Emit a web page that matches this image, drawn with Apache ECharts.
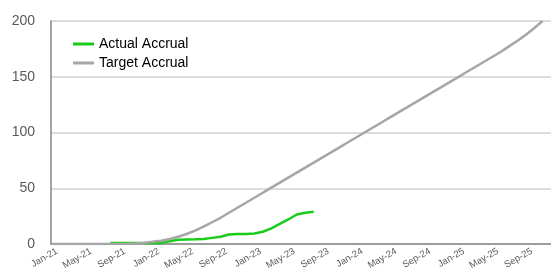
<!DOCTYPE html>
<html>
<head>
<meta charset="utf-8">
<script src="https://cdn.jsdelivr.net/npm/echarts@6/dist/echarts.min.js"></script>
<style>
  html, body { margin: 0; padding: 0; background: #fff; }
  #chart { width: 551px; height: 275px; }
</style>
</head>
<body>
<div id="chart"></div>
<script>
const MONTHS = ['Jan', 'Feb', 'Mar', 'Apr', 'May', 'Jun', 'Jul', 'Aug', 'Sep', 'Oct', 'Nov', 'Dec'];
const YEARS = ['21', '22', '23', '24', '25'];
const categories = [];
YEARS.forEach(y => MONTHS.forEach(m => categories.push(m + '-' + y)));

// Jan-21 .. Aug-23
const actualAccrual = [
  null, null, null, null, null, null, null, 1, 1, 1, 1, 1,
  1, 1, 2.5, 3.8, 4, 4.2, 4.5, 5.5, 6.5, 8.5, 9, 9,
  9.5, 11, 14, 18, 22, 26.5, 28, 29
];

// Jan-21 .. Nov-25
const targetAccrual = [
  0, 0, 0, 0, 0, 0, 0, 0, 0, 0, 0.5, 1,
  2, 3, 4.5, 6.5, 9, 12, 15.5, 19.5, 23.5, 28, 32.5, 37,
  41.5, 46, 50.5, 55, 59.5, 64, 68.5, 73, 77.5, 82, 86.5, 91,
  95.5, 100, 104.5, 109, 113.5, 118, 122.5, 127, 131.5, 136, 140.5, 145,
  149.5, 154, 158.5, 163, 167.5, 172, 177, 182, 187.5, 193.5, 200
];

const yTicks = [0, 50, 100, 150, 200];

const chart = echarts.init(document.getElementById('chart'));

chart.setOption({
  animation: false,
  title: {
    text: 'Cumulative Accrual (N)',
    right: 131,
    top: -27,
    textStyle: { fontFamily: 'Liberation Sans', fontSize: 22, fontWeight: 'bold', color: '#000' }
  },
  legend: {
    orient: 'vertical',
    left: 68,
    top: 32,
    itemWidth: 21,
    itemHeight: 3,
    itemGap: 5,
    icon: 'rect',
    textStyle: { fontFamily: 'Liberation Sans', fontSize: 14, color: '#000', lineHeight: 14 },
    data: ['Actual Accrual', 'Target Accrual']
  },
  grid: { left: 51, right: 0, top: 21, bottom: 31, containLabel: false },
  xAxis: {
    type: 'category',
    data: categories,
    boundaryGap: false,
    axisLine: { lineStyle: { color: '#868686', width: 1.5 } },
    axisTick: { show: false },
    axisLabel: {
      interval: 3,
      rotate: 30,
      margin: 10,
      padding: [0, -7, 0, 0],
      fontFamily: 'Liberation Sans',
      fontSize: 9.5,
      color: '#595959'
    },
    splitLine: { show: false }
  },
  yAxis: {
    type: 'value',
    min: yTicks[0],
    max: yTicks[yTicks.length - 1],
    interval: 50,
    axisLine: { show: true, lineStyle: { color: '#868686', width: 1.5 } },
    axisTick: { show: false },
    axisLabel: {
      margin: 16,
      fontFamily: 'Liberation Sans',
      fontSize: 14,
      color: '#595959'
    },
    splitLine: { lineStyle: { color: '#D0D0D0', width: 1.5 } }
  },
  series: [
    {
      name: 'Actual Accrual',
      type: 'line',
      data: actualAccrual,
      symbol: 'none',
      lineStyle: { color: '#1ACC1A', width: 2.5 },
      itemStyle: { color: '#1ACC1A' }
    },
    {
      name: 'Target Accrual',
      type: 'line',
      data: targetAccrual,
      symbol: 'none',
      lineStyle: { color: '#A6A6A6', width: 2.5 },
      itemStyle: { color: '#A6A6A6' }
    }
  ]
});
</script>
</body>
</html>
